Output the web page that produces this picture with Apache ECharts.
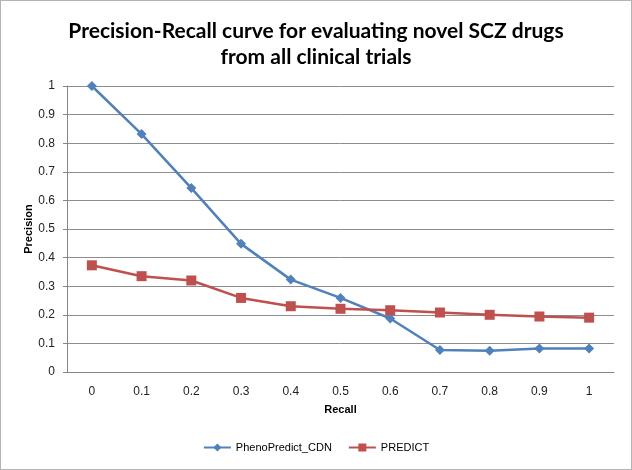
<!DOCTYPE html>
<html><head><meta charset="utf-8">
<script src="https://cdn.jsdelivr.net/npm/echarts@6/dist/echarts.min.js"></script>
<style>html,body{margin:0;padding:0;background:#fff}#c{width:632px;height:470px;box-sizing:border-box;border:1px solid #b3b3b3}</style>
</head><body><div id="c"></div>
<script>
const recall = ['0','0.1','0.2','0.3','0.4','0.5','0.6','0.7','0.8','0.9','1'];
const phenoPredict = [1.0,0.832,0.643,0.448,0.323,0.259,0.187,0.077,0.074,0.082,0.082];
const predict = [0.373,0.335,0.32,0.259,0.23,0.221,0.216,0.208,0.2,0.194,0.19];
const chart = echarts.init(document.getElementById('c'));
const font = '"Liberation Sans", Arial, sans-serif';
chart.setOption({
  animation:false,
  title:{text:'Precision-Recall curve for evaluating novel SCZ drugs\nfrom all clinical trials',left:'center',top:12,
    textStyle:{fontFamily:'Lato, "Liberation Sans", sans-serif',fontSize:21,fontWeight:'bold',color:'#000',lineHeight:26}},
  grid:{left:66,right:17,top:85,bottom:97},
  legend:{bottom:11,left:'center',itemWidth:27,itemHeight:10,itemGap:16,
    textStyle:{fontFamily:font,fontSize:11,color:'#000'},
    data:['PhenoPredict_CDN','PREDICT']},
  xAxis:{type:'category',data:recall,boundaryGap:true,name:'Recall',nameLocation:'middle',nameGap:32,
    nameTextStyle:{fontFamily:font,fontSize:11,fontWeight:'bold',color:'#000'},
    axisLine:{lineStyle:{color:'#868686'}},axisTick:{length:5,lineStyle:{color:'#868686'}},
    axisLabel:{fontFamily:font,fontSize:12,color:'#222',margin:14}},
  yAxis:{type:'value',min:0,max:1,interval:0.1,name:'Precision',nameLocation:'middle',nameGap:33,
    nameMoveOverlap:false,
    nameTextStyle:{fontFamily:font,fontSize:11,fontWeight:'bold',color:'#000'},
    axisLine:{show:true,lineStyle:{color:'#868686'}},axisTick:{show:true,length:4,lineStyle:{color:'#868686'}},
    axisLabel:{fontFamily:font,fontSize:12,color:'#222',margin:12},
    splitLine:{lineStyle:{color:'#8c8c8c',width:1}}},
  series:[
    {name:'PhenoPredict_CDN',type:'line',data:phenoPredict,symbol:'diamond',symbolSize:10,
      lineStyle:{color:'#4F81BD',width:2.5},itemStyle:{color:'#4F81BD'}},
    {name:'PREDICT',type:'line',data:predict,symbol:'rect',symbolSize:10,
      lineStyle:{color:'#C0504D',width:2.5},itemStyle:{color:'#C0504D'}}
  ]
});
</script></body></html>
